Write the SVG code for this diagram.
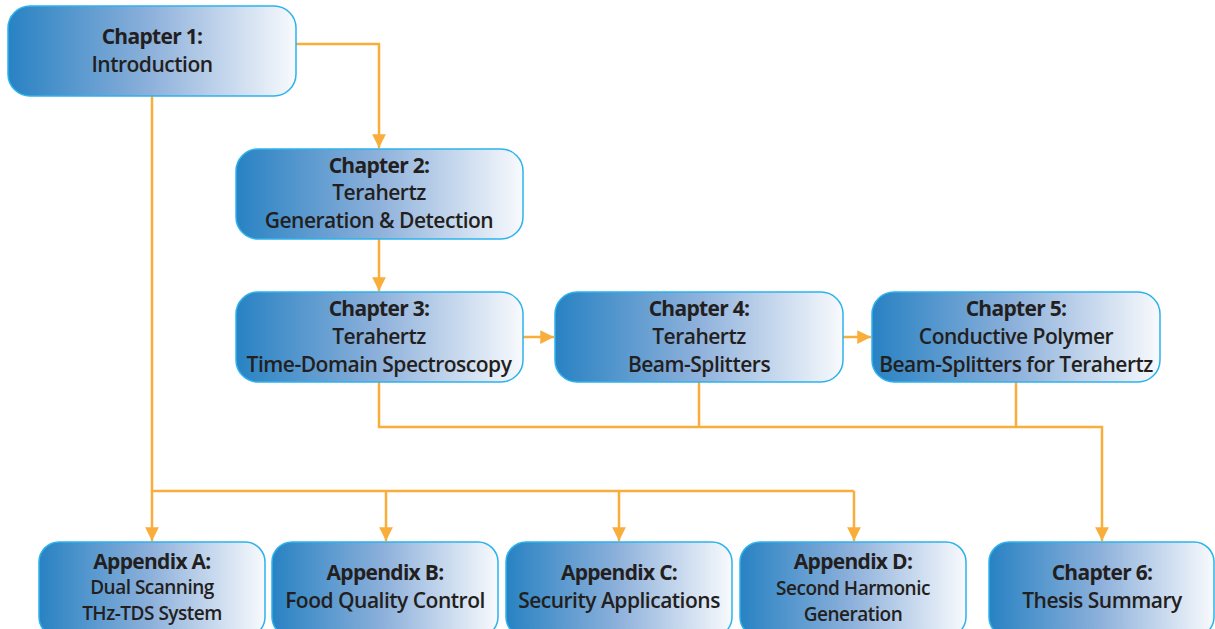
<svg xmlns="http://www.w3.org/2000/svg" width="1215" height="629" viewBox="0 0 1215 629">
<defs>
<linearGradient id="g" x1="0" y1="0" x2="1" y2="0">
<stop offset="0" stop-color="#2882C3"/>
<stop offset="0.5" stop-color="#8EB1DB"/>
<stop offset="1" stop-color="#F8FAFD"/>
</linearGradient>
<marker id="ah" viewBox="0 0 10 10" refX="10" refY="5" markerWidth="5.5" markerHeight="5.5" orient="auto" markerUnits="strokeWidth">
<path d="M0,0 L10,5 L0,10 z" fill="#F9AE3B"/>
</marker>
<style>
.box{fill:url(#g);stroke:#2CB3EC;stroke-width:1.5}
.t{font-family:"Open Sans","Liberation Sans",sans-serif;font-weight:700;font-size:21px;fill:#231F20;text-anchor:middle;letter-spacing:-0.7px}
.s{font-family:"Open Sans","Liberation Sans",sans-serif;font-weight:600;font-size:21px;fill:#231F20;text-anchor:middle;letter-spacing:-0.5px}
.ss{font-size:19px}
.c{fill:none;stroke:#F9AE3B;stroke-width:2.5}
</style>
</defs>
<rect width="1215" height="629" fill="#FFFFFF"/>
<g id="connectors">
<path class="c" d="M296,44 H379 V148" marker-end="url(#ah)"/>
<path class="c" d="M379,239 V291" marker-end="url(#ah)"/>
<path class="c" d="M523,337 H554" marker-end="url(#ah)"/>
<path class="c" d="M843,337 H871" marker-end="url(#ah)"/>
<path class="c" d="M152,96 V541" marker-end="url(#ah)"/>
<path class="c" d="M152,491 H854"/>
<path class="c" d="M386,491 V541" marker-end="url(#ah)"/>
<path class="c" d="M619,491 V541" marker-end="url(#ah)"/>
<path class="c" d="M854,491 V541" marker-end="url(#ah)"/>
<path class="c" d="M379,382 V427 H1102 V541" marker-end="url(#ah)"/>
<path class="c" d="M699,382 V427"/>
<path class="c" d="M1016,382 V427"/>
</g>
<g id="ch1">
<rect class="box" x="8" y="6" width="288" height="90" rx="22"/>
<text class="t" x="152" y="44">Chapter 1:</text>
<text class="s" x="152" y="72">Introduction</text>
</g>
<g id="ch2">
<rect class="box" x="236" y="149" width="287" height="90" rx="22"/>
<text class="t" x="379" y="173">Chapter 2:</text>
<text class="s" x="379" y="200">Terahertz</text>
<text class="s" x="379" y="228">Generation &amp; Detection</text>
</g>
<g id="ch3">
<rect class="box" x="236" y="292" width="287" height="90" rx="22"/>
<text class="t" x="379" y="316">Chapter 3:</text>
<text class="s" x="379" y="344">Terahertz</text>
<text class="s" x="379" y="372">Time-Domain Spectroscopy</text>
</g>
<g id="ch4">
<rect class="box" x="555" y="292" width="288" height="90" rx="22"/>
<text class="t" x="699" y="316">Chapter 4:</text>
<text class="s" x="699" y="344">Terahertz</text>
<text class="s" x="699" y="372">Beam-Splitters</text>
</g>
<g id="ch5">
<rect class="box" x="872" y="292" width="288" height="90" rx="22"/>
<text class="t" x="1016" y="316">Chapter 5:</text>
<text class="s" x="1016" y="344">Conductive Polymer</text>
<text class="s" x="1016" y="372">Beam-Splitters for Terahertz</text>
</g>
<g id="appA">
<rect class="box" x="39" y="542" width="226" height="95" rx="20"/>
<text class="t" x="152" y="569">Appendix A:</text>
<text class="s ss" x="152" y="594">Dual Scanning</text>
<text class="s ss" x="152" y="620">THz-TDS System</text>
</g>
<g id="appB">
<rect class="box" x="272" y="542" width="226" height="95" rx="20"/>
<text class="t" x="385" y="580">Appendix B:</text>
<text class="s" x="385" y="608">Food Quality Control</text>
</g>
<g id="appC">
<rect class="box" x="506" y="542" width="226" height="95" rx="20"/>
<text class="t" x="619" y="580">Appendix C:</text>
<text class="s" x="619" y="608">Security Applications</text>
</g>
<g id="appD">
<rect class="box" x="740" y="542" width="226" height="95" rx="20"/>
<text class="t" x="853" y="569">Appendix D:</text>
<text class="s ss" x="853" y="595">Second Harmonic</text>
<text class="s ss" x="853" y="621">Generation</text>
</g>
<g id="ch6">
<rect class="box" x="989" y="542" width="225" height="95" rx="20"/>
<text class="t" x="1102" y="580">Chapter 6:</text>
<text class="s" x="1102" y="608">Thesis Summary</text>
</g>
</svg>
